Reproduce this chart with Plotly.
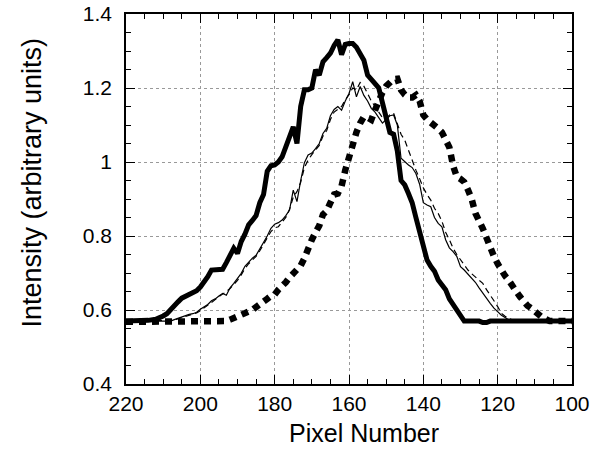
import plotly.graph_objects as go

# pixel number axis (runs from 220 down to 100)
pix_thick = [220, 218, 216, 214, 212, 211, 210, 209, 208, 207, 206, 205, 204, 203, 202, 201,
             200, 199, 198, 197, 196, 195, 194, 193, 192, 191, 190, 189, 188, 187, 186, 185,
             184, 183, 182, 181, 180, 179, 178, 177, 176, 175, 174, 173, 172, 171, 170, 169,
             168, 167, 166, 165, 164, 163, 162, 161, 160, 159, 158, 157, 156, 155, 154, 153,
             152, 151, 150, 149, 148, 147, 146, 145, 144, 143, 142, 141, 140, 139, 138, 137,
             136, 135, 134, 133, 132, 131, 130, 129, 125, 124, 123, 122, 100]
int_thick = [0.570, 0.570, 0.572, 0.572, 0.575, 0.578, 0.584, 0.590, 0.602, 0.612, 0.622, 0.632,
             0.637, 0.641, 0.645, 0.652, 0.662, 0.675, 0.690, 0.708, 0.708, 0.708, 0.710, 0.728,
             0.745, 0.767, 0.753, 0.785, 0.805, 0.830, 0.842, 0.855, 0.890, 0.912, 0.975, 0.990,
             0.992, 1.000, 1.014, 1.040, 1.070, 1.095, 1.050, 1.150, 1.195, 1.195, 1.200, 1.249,
             1.235, 1.271, 1.282, 1.294, 1.315, 1.330, 1.290, 1.318, 1.320, 1.320, 1.310, 1.295,
             1.275, 1.235, 1.225, 1.212, 1.200, 1.160, 1.110, 1.080, 1.075, 1.030, 0.950, 0.938,
             0.915, 0.890, 0.850, 0.810, 0.770, 0.735, 0.718, 0.705, 0.681, 0.668, 0.655, 0.630,
             0.615, 0.600, 0.582, 0.570, 0.570, 0.566, 0.566, 0.570, 0.570]

pix_thin = [220, 212, 210, 208, 207, 206, 205, 204, 203, 202, 201, 200, 199, 198, 197, 196, 195,
            194, 193, 192, 191, 190, 189, 188, 187, 186, 185, 184, 183, 182, 181, 180, 179, 178,
            177, 176, 175, 174, 173, 172, 171, 170, 169, 168, 167, 166, 165, 164, 163, 162, 161,
            160, 159, 158, 157, 156, 155, 154, 153, 152, 151, 150, 149, 148, 147, 146, 145, 144,
            143, 142, 141, 140, 139, 138, 137, 136, 135, 134, 133, 132, 131, 130, 129, 128, 127,
            126, 125, 124, 123, 122, 121, 120, 119, 118, 117, 116, 100]
int_thin = [0.570, 0.570, 0.572, 0.570, 0.574, 0.578, 0.582, 0.586, 0.588, 0.590, 0.594, 0.602,
            0.609, 0.615, 0.625, 0.630, 0.638, 0.645, 0.640, 0.660, 0.672, 0.685, 0.699, 0.718,
            0.730, 0.740, 0.748, 0.765, 0.782, 0.800, 0.821, 0.832, 0.836, 0.843, 0.855, 0.870,
            0.924, 0.893, 0.950, 0.998, 1.019, 1.024, 1.036, 1.050, 1.077, 1.091, 1.125, 1.142,
            1.150, 1.140, 1.165, 1.185, 1.217, 1.176, 1.204, 1.180, 1.165, 1.145, 1.135, 1.120,
            1.105, 1.115, 1.125, 1.127, 1.100, 1.010, 1.000, 0.992, 0.985, 0.969, 0.940, 0.890,
            0.884, 0.879, 0.850, 0.834, 0.825, 0.790, 0.768, 0.758, 0.745, 0.717, 0.708, 0.697,
            0.686, 0.675, 0.660, 0.645, 0.630, 0.618, 0.605, 0.595, 0.586, 0.580, 0.573, 0.570,
            0.570]

pix_dash = [220, 210, 208, 207, 206, 205, 204, 203, 202, 201, 200, 199, 198, 197, 196, 195, 194,
            193, 192, 191, 190, 189, 188, 187, 186, 185, 184, 183, 182, 181, 180, 179, 178, 177,
            176, 175, 174, 173, 172, 171, 170, 169, 168, 167, 166, 165, 164, 163, 162, 161, 160,
            159, 158, 157, 156, 155, 154, 153, 152, 151, 150, 149, 148, 147, 146, 145, 144, 143,
            142, 141, 140, 139, 138, 137, 136, 135, 134, 133, 132, 131, 130, 129, 128, 127, 126,
            125, 124, 123, 122, 121, 120, 119, 118, 117, 116, 115, 114, 100]
int_dash = [0.570, 0.570, 0.572, 0.573, 0.576, 0.580, 0.583, 0.586, 0.589, 0.592, 0.598, 0.605,
            0.612, 0.620, 0.628, 0.636, 0.642, 0.650, 0.658, 0.668, 0.680, 0.695, 0.712, 0.725,
            0.735, 0.745, 0.760, 0.776, 0.795, 0.812, 0.822, 0.825, 0.838, 0.850, 0.872, 0.905,
            0.920, 0.945, 0.985, 1.005, 1.020, 1.032, 1.045, 1.070, 1.085, 1.115, 1.135, 1.142,
            1.150, 1.168, 1.182, 1.200, 1.195, 1.215, 1.205, 1.185, 1.165, 1.150, 1.135, 1.120,
            1.118, 1.128, 1.132, 1.105, 1.075, 1.059, 1.032, 1.000, 0.978, 0.955, 0.930, 0.912,
            0.897, 0.875, 0.861, 0.840, 0.810, 0.790, 0.767, 0.750, 0.735, 0.722, 0.708, 0.698,
            0.690, 0.680, 0.672, 0.655, 0.641, 0.625, 0.609, 0.591, 0.583, 0.577, 0.573, 0.572,
            0.570, 0.570]

pix_dot = [220, 194, 193, 192, 191, 190, 189, 188, 187, 186, 185, 184, 183, 182, 181, 180, 179,
           178, 177, 176, 175, 174, 173, 172, 171, 170, 169, 168, 167, 166, 165, 164, 163, 162,
           161, 160, 159, 158, 157, 156, 155, 154, 153, 152, 151, 150, 149, 148, 147, 146, 145,
           144, 143, 142, 141, 140, 139, 138, 137, 136, 135, 134, 133, 132, 131, 130, 129, 128,
           127, 126, 125, 124, 123, 122, 121, 120, 119, 118, 117, 116, 115, 114, 113, 112, 111,
           110, 109, 108, 107, 106, 100]
int_dot = [0.568, 0.568, 0.570, 0.574, 0.578, 0.582, 0.586, 0.590, 0.595, 0.600, 0.608, 0.614,
           0.625, 0.630, 0.638, 0.642, 0.655, 0.663, 0.675, 0.688, 0.700, 0.708, 0.720, 0.740,
           0.770, 0.790, 0.810, 0.828, 0.858, 0.868, 0.890, 0.912, 0.915, 0.935, 0.978, 1.018,
           1.045, 1.080, 1.105, 1.122, 1.120, 1.114, 1.140, 1.170, 1.188, 1.205, 1.218, 1.224,
           1.225, 1.195, 1.182, 1.174, 1.174, 1.181, 1.165, 1.127, 1.115, 1.108, 1.100, 1.090,
           1.080, 1.062, 1.040, 0.990, 0.960, 0.954, 0.946, 0.925, 0.900, 0.862, 0.845, 0.820,
           0.795, 0.765, 0.745, 0.725, 0.705, 0.692, 0.680, 0.662, 0.650, 0.636, 0.622, 0.612,
           0.605, 0.596, 0.586, 0.580, 0.575, 0.570, 0.570]

FONT = "Liberation Sans, Arial, Helvetica, sans-serif"

fig = go.Figure()
fig.add_trace(go.Scatter(x=pix_dot, y=int_dot, mode="lines",
                         line=dict(color="black", width=6.5, dash="7px,6px")))
fig.add_trace(go.Scatter(x=pix_dash, y=int_dash, mode="lines",
                         line=dict(color="black", width=1.2, dash="6px,4px")))
fig.add_trace(go.Scatter(x=pix_thin, y=int_thin, mode="lines",
                         line=dict(color="black", width=1.2)))
fig.add_trace(go.Scatter(x=pix_thick, y=int_thick, mode="lines",
                         line=dict(color="black", width=5)))

axis_common = dict(
    showline=True, linecolor="black", linewidth=1.5, mirror="allticks",
    ticks="inside", ticklen=9, tickwidth=1.2, tickcolor="black",
    showgrid=True, gridcolor="#999999", griddash="dot", gridwidth=1,
    zeroline=False, automargin=False,
    tickfont=dict(family=FONT, size=21, color="black"),
)

fig.update_layout(
    width=605, height=451,
    margin=dict(l=126, r=33, t=14, b=67),
    paper_bgcolor="white", plot_bgcolor="white",
    showlegend=False,
    font=dict(family=FONT, color="black"),
    xaxis=dict(range=[220, 100], tickmode="array", tickvals=[220, 200, 180, 160, 140, 120, 100],
               minor=dict(ticks="inside", dtick=5, ticklen=5, tickcolor="black", showgrid=False),
               ticklabelstandoff=0, **axis_common),
    yaxis=dict(range=[0.4, 1.4], tickmode="array", tickvals=[0.4, 0.6, 0.8, 1.0, 1.2, 1.4],
               ticktext=["0.4", "0.6", "0.8", "1", "1.2", "1.4"],
               minor=dict(ticks="inside", dtick=0.05, ticklen=5, tickcolor="black", showgrid=False),
               ticklabelstandoff=8, **axis_common),
    annotations=[
        dict(text="Intensity (arbitrary units)", xref="paper", yref="paper",
             x=-0.2096, y=0.543, xanchor="center", yanchor="middle",
             textangle=-90, showarrow=False,
             font=dict(family=FONT, size=27, color="black")),
        dict(text="Pixel Number", xref="paper", yref="paper",
             x=0.534, y=-0.132, xanchor="center", yanchor="middle", showarrow=False,
             font=dict(family=FONT, size=25, color="black")),
    ],
)

fig.write_html("out.html", config={"displayModeBar": False},
               post_script="document.body.style.margin='0';")
